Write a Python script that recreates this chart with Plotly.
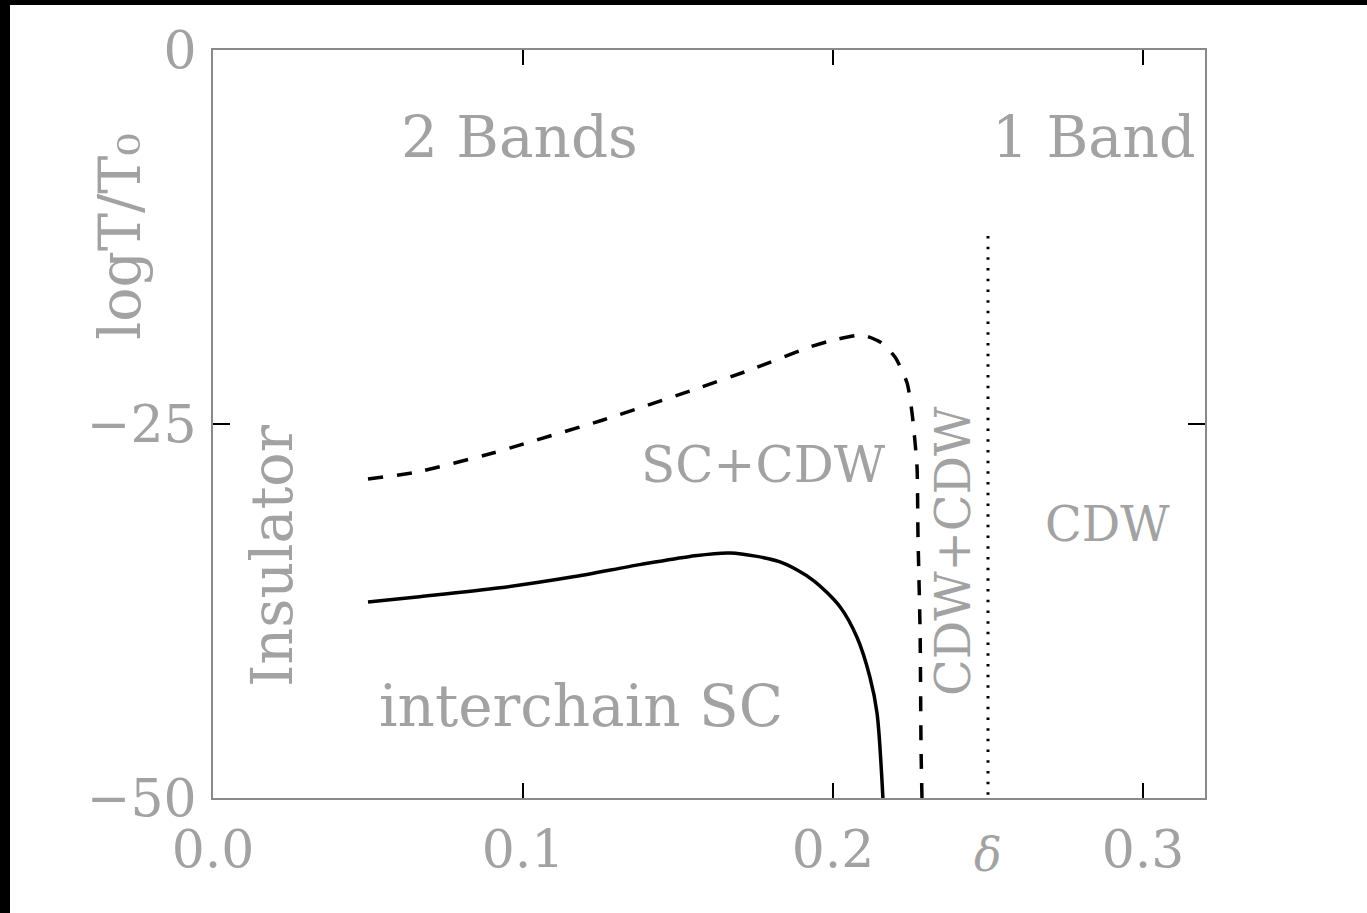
import plotly.graph_objects as go

# Solid line: interchain SC transition
sc_delta = [0.05, 0.0658, 0.0926, 0.1152, 0.1377, 0.1539, 0.1668, 0.1829, 0.1935,
            0.2023, 0.2077, 0.2119, 0.2142, 0.2161]
sc_logT = [-36.90, -36.56, -35.95, -35.25, -34.40, -33.85, -33.62, -34.22, -35.43,
           -37.23, -39.24, -41.91, -44.32, -50.0]

# Dashed line: CDW transition
cdw_delta = [0.05, 0.0658, 0.0903, 0.1, 0.1258, 0.1548, 0.1732, 0.1916, 0.1990, 0.2094,
             0.2152, 0.2200, 0.2239, 0.2255, 0.2271, 0.2274, 0.2281, 0.2284, 0.2287]
cdw_logT = [-28.68, -28.21, -26.94, -26.34, -24.73, -22.73, -21.39, -19.92, -19.45, -19.05,
            -19.52, -20.52, -22.26, -24.26, -27.87, -32.29, -38.97, -46.59, -50.0]

# Dotted line: band boundary
band_delta = [0.25, 0.25]
band_logT = [-12.43, -50.0]

x_ticks = [0.0, 0.1, 0.2, 0.3]
x_ticktext = ["0.0", "0.1", "0.2", "0.3"]
y_ticks = [0, -25, -50]

labels = ["2 Bands", "1 Band", "SC+CDW", "CDW", "interchain SC"]
label_x = [0.0988, 0.2839, 0.1777, 0.2887, 0.1187]
label_y = [-5.82, -5.82, -27.74, -31.68, -43.85]
label_size = [58, 57, 50, 48, 58]

vlabels = ["Insulator", "CDW+CDW"]
vlabel_x = [0.0190, 0.2387]
vlabel_y = [-33.76, -33.49]
vlabel_size = [57, 48]

TXT = "#a2a2a2"
FONT = "DejaVu Serif"

fig = go.Figure()
fig.add_trace(go.Scatter(x=sc_delta, y=sc_logT, mode="lines",
                         line=dict(color="black", width=3.5, shape="spline", smoothing=0.8),
                         showlegend=False))
fig.add_trace(go.Scatter(x=cdw_delta, y=cdw_logT, mode="lines",
                         line=dict(color="black", width=3.5, dash="15px,14px", shape="spline", smoothing=0.6),
                         showlegend=False))
fig.add_trace(go.Scatter(x=band_delta, y=band_logT, mode="lines",
                         line=dict(color="black", width=3, dash="2.5px,8.2px"),
                         showlegend=False))

for t, x, y, s in zip(labels, label_x, label_y, label_size):
    fig.add_annotation(x=x, y=y, text=t, showarrow=False,
                       font=dict(family=FONT, size=s, color=TXT),
                       xanchor="center", yanchor="middle")
for t, x, y, s in zip(vlabels, vlabel_x, vlabel_y, vlabel_size):
    fig.add_annotation(x=x, y=y, text=t, showarrow=False, textangle=-90,
                       font=dict(family=FONT, size=s, color=TXT),
                       xanchor="center", yanchor="middle")

# axis titles
fig.add_annotation(xref="paper", yref="paper", x=(120 - 213) / 992, y=(798 - 237) / 748,
                   text="logT/T₀", textangle=-90, showarrow=False,
                   font=dict(family=FONT, size=57, color=TXT),
                   xanchor="center", yanchor="middle")
fig.add_annotation(x=0.25, yref="paper", y=(798 - 855) / 748, text="δ",
                   showarrow=False, font=dict(family=FONT, size=46, color=TXT, style="italic"),
                   xanchor="center", yanchor="middle")

# white page with black border on top and left
fig.add_shape(type="rect", xref="paper", yref="paper",
              x0=(10 - 213) / 992, x1=1.3, y0=-0.3, y1=(798 - 5) / 748,
              fillcolor="white", line=dict(width=0), layer="below")

axis_common = dict(showline=True, linecolor="#8a8a8a", linewidth=2, mirror="ticks",
                   ticks="inside", tickcolor="black", tickwidth=2,
                   showgrid=False, zeroline=False,
                   tickfont=dict(family=FONT, size=52, color=TXT))

fig.update_xaxes(range=[0, 0.32], tickvals=x_ticks, ticktext=x_ticktext, ticklen=15,
                 ticklabelstandoff=5, **axis_common)
fig.update_yaxes(range=[-50, 0], tickvals=y_ticks, ticklen=17,
                 ticklabelstandoff=4, **axis_common)

fig.update_layout(width=1367, height=913,
                  margin=dict(l=213, r=162, t=50, b=115),
                  paper_bgcolor="black", plot_bgcolor="white")

fig.write_html("out.html", config={"displayModeBar": False},
               post_script="document.body.style.margin='0';document.body.style.overflow='hidden';")
